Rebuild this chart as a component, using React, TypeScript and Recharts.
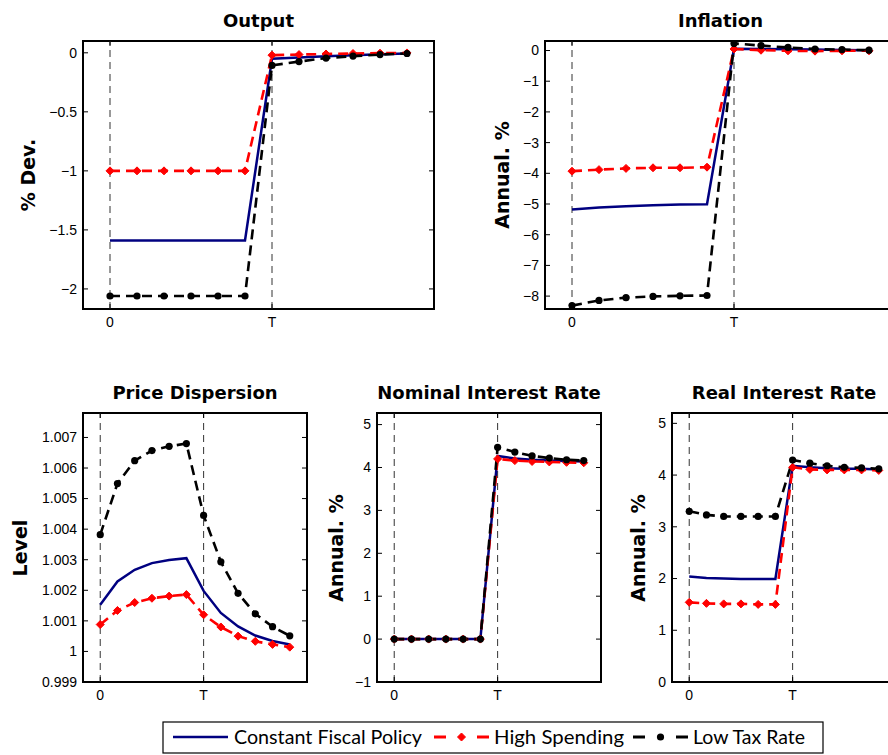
import React from "react";
import { LineChart, Line, XAxis, YAxis, ReferenceLine, ReferenceArea } from "recharts";

// quarters around the policy window, T = period 6
const periods = [0, 1, 2, 3, 4, 5, 6, 7, 8, 9, 10, 11];
const xTicks = [0, 6];
const xTickLabels: Record<number, string> = { 0: "0", 6: "T" };

const outputConstant = [-1.59, -1.59, -1.59, -1.59, -1.59, -1.59, -0.05, -0.04, -0.03, -0.02, -0.012, -0.006];
const outputHighSpend = [-1.0, -1.0, -1.0, -1.0, -1.0, -1.0, -0.02, -0.015, -0.01, -0.006, -0.003, -0.001];
const outputLowTax = [-2.06, -2.06, -2.06, -2.06, -2.06, -2.06, -0.107, -0.074, -0.045, -0.028, -0.015, -0.006];
const outputTicks = [-2, -1.5, -1, -0.5, 0];

const inflConstant = [-5.18, -5.11, -5.07, -5.04, -5.02, -5.01, 0.06, 0.05, 0.04, 0.03, 0.02, 0.01];
const inflHighSpend = [-3.93, -3.88, -3.84, -3.82, -3.82, -3.8, 0.05, 0.01, -0.01, -0.02, -0.01, -0.01];
const inflLowTax = [-8.31, -8.14, -8.05, -8.01, -7.99, -7.98, 0.23, 0.16, 0.1, 0.05, 0.03, 0.01];
const inflTicks = [-8, -7, -6, -5, -4, -3, -2, -1, 0];

const dispConstant = [1.00153, 1.00229, 1.00267, 1.00289, 1.00299, 1.00305, 1.00198, 1.00126, 1.00082, 1.00052, 1.00034, 1.00023];
const dispHighSpend = [1.00088, 1.00134, 1.0016, 1.00174, 1.00181, 1.00186, 1.0012, 1.0008, 1.0005, 1.00033, 1.00023, 1.00014];
const dispLowTax = [1.00382, 1.00549, 1.00624, 1.00657, 1.00671, 1.0068, 1.00445, 1.00293, 1.0019, 1.00123, 1.00081, 1.00051];
const dispTicks = [0.999, 1, 1.001, 1.002, 1.003, 1.004, 1.005, 1.006, 1.007];

const nomConstant = [0, 0, 0, 0, 0, 0, 4.27, 4.21, 4.18, 4.16, 4.15, 4.14];
const nomHighSpend = [0, 0, 0, 0, 0, 0, 4.2, 4.16, 4.14, 4.13, 4.12, 4.11];
const nomLowTax = [0, 0, 0, 0, 0, 0, 4.47, 4.36, 4.27, 4.22, 4.18, 4.16];
const nomTicks = [-1, 0, 1, 2, 3, 4, 5];

const realConstant = [2.04, 2.01, 2.0, 1.99, 1.99, 1.99, 4.18, 4.15, 4.13, 4.12, 4.12, 4.11];
const realHighSpend = [1.54, 1.52, 1.51, 1.51, 1.5, 1.5, 4.15, 4.11, 4.1, 4.1, 4.1, 4.09];
const realLowTax = [3.3, 3.23, 3.2, 3.2, 3.2, 3.2, 4.29, 4.23, 4.18, 4.15, 4.14, 4.12];
const realTicks = [0, 1, 2, 3, 4, 5];

const seriesNames = ["Constant Fiscal Policy", "High Spending", "Low Tax Rate"];

const NAVY = "#000080";
const RED = "#ff0000";
const BLACK = "#000000";

const TICK_FONT = "'Liberation Sans', Arial, sans-serif";
const TITLE_FONT = "'DejaVu Sans', sans-serif";
const LEGEND_FONT = "Lato, sans-serif";

function rows(a: number[], b: number[], c: number[]) {
  return periods.map((t, i) => ({ t, constant: a[i], high: b[i], low: c[i] }));
}

const fmt = (v: number) => {
  const s = Number(v.toFixed(3)).toString();
  return s.replace("-", "\u2212");
};

function Diamond(props: any) {
  const { cx, cy } = props;
  if (cx == null || cy == null) return <g />;
  const r = 4;
  return <polygon points={`${cx},${cy - r} ${cx + r},${cy} ${cx},${cy + r} ${cx - r},${cy}`} fill={RED} stroke={RED} strokeWidth={1} />;
}

function Dot(props: any) {
  const { cx, cy } = props;
  if (cx == null || cy == null) return <g />;
  return <circle cx={cx} cy={cy} r={3.6} fill={BLACK} />;
}

type PanelProps = {
  title: string;
  ylabel: string;
  labelX: number;
  x: number;
  y: number;
  w: number;
  h: number;
  domain: [number, number];
  ticks: number[];
  data: { t: number; constant: number; high: number; low: number }[];
};

const PAD_L = 70;
const PAD_T = 20;
const PAD_R = 10;
const PAD_B = 30;

function Panel({ title, ylabel, labelX, x, y, w, h, domain, ticks, data }: PanelProps) {
  const YTick = (p: any) => {
    const ax = p.x + 6;
    return (
      <g>
        <text x={p.x} y={p.y} dy="0.35em" textAnchor="end" fontSize={14} fontFamily={TICK_FONT} fill="#000">
          {fmt(p.payload.value)}
        </text>
        <line x1={ax} x2={ax + 5} y1={p.y} y2={p.y} stroke="#000" strokeWidth={1} />
        <line x1={ax + w - 5} x2={ax + w} y1={p.y} y2={p.y} stroke="#000" strokeWidth={1} />
      </g>
    );
  };
  const XTick = (p: any) => {
    const ay = p.y - 8;
    return (
      <g>
        <text x={p.x} y={p.y} dy="0.71em" textAnchor="middle" fontSize={14} fontFamily={TICK_FONT} fill="#000">
          {xTickLabels[p.payload.value]}
        </text>
        <line x1={p.x} x2={p.x} y1={ay} y2={ay - 5} stroke="#000" strokeWidth={1} />
        <line x1={p.x} x2={p.x} y1={ay - h} y2={ay - h + 5} stroke="#000" strokeWidth={1} />
      </g>
    );
  };

  return (
    <>
      <div
        style={{
          position: "absolute",
          left: x + w / 2,
          top: y - 21,
          transform: "translate(-50%, -50%)",
          whiteSpace: "nowrap",
          fontFamily: TITLE_FONT,
          fontWeight: "bold",
          fontSize: 18,
        }}
      >
        {title}
      </div>
      <div
        style={{
          position: "absolute",
          left: labelX,
          top: y + h / 2,
          transform: "translate(-50%, -50%) rotate(-90deg)",
          whiteSpace: "nowrap",
          fontFamily: TITLE_FONT,
          fontWeight: "bold",
          fontSize: 19,
        }}
      >
        {ylabel}
      </div>
      <div style={{ position: "absolute", left: x - PAD_L, top: y - PAD_T }}>
        <LineChart
          width={w + PAD_L + PAD_R}
          height={h + PAD_T + PAD_B}
          data={data}
          margin={{ top: PAD_T, right: PAD_R, bottom: 0, left: 0 }}
        >
          <XAxis
            dataKey="t"
            type="number"
            domain={[-1, 12]}
            ticks={xTicks}
            height={PAD_B}
            tickSize={0}
            tickMargin={8}
            axisLine={false}
            tickLine={false}
            tick={XTick}
            allowDataOverflow
          />
          <YAxis
            type="number"
            domain={domain}
            ticks={ticks}
            width={PAD_L}
            tickSize={0}
            tickMargin={6}
            axisLine={false}
            tickLine={false}
            tick={YTick}
            allowDataOverflow
            interval={0}
          />
          <ReferenceLine x={0} stroke="#333" strokeDasharray="7 5" strokeWidth={1} />
          <ReferenceLine x={6} stroke="#333" strokeDasharray="7 5" strokeWidth={1} />
          <Line
            dataKey="constant"
            name={seriesNames[0]}
            stroke={NAVY}
            strokeWidth={2.5}
            dot={false}
            isAnimationActive={false}
            type="linear"
          />
          <Line
            dataKey="high"
            name={seriesNames[1]}
            stroke={RED}
            strokeWidth={2.6}
            strokeDasharray="10 6"
            dot={(p: any) => <Diamond key={`d${p.index}`} {...p} />}
            isAnimationActive={false}
            type="linear"
          />
          <Line
            dataKey="low"
            name={seriesNames[2]}
            stroke={BLACK}
            strokeWidth={2.6}
            strokeDasharray="10 6"
            dot={(p: any) => <Dot key={`c${p.index}`} {...p} />}
            isAnimationActive={false}
            type="linear"
          />
          <ReferenceArea
            x1={-1}
            x2={12}
            y1={domain[0]}
            y2={domain[1]}
            fill="none"
            stroke="#000"
            strokeWidth={2}
            ifOverflow="visible"
          />
        </LineChart>
      </div>
    </>
  );
}

// legend drawn as one small svg, laid out like the original figure's legend box
function Legend() {
  const cy = 16;
  return (
    <svg
      width={662}
      height={33}
      style={{ position: "absolute", left: 162, top: 721 }}
    >
      <rect x={1} y={1} width={660} height={31} fill="#fff" stroke="#000" strokeWidth={1.2} />
      <line x1={11} x2={66} y1={cy} y2={cy} stroke={NAVY} strokeWidth={2.5} />
      <text x={72} y={cy} dy="0.36em" fontSize={19} fontFamily={LEGEND_FONT} textLength={188} lengthAdjust="spacingAndGlyphs">
        {seriesNames[0]}
      </text>
      <line x1={272} x2={327} y1={cy} y2={cy} stroke={RED} strokeWidth={2.8} strokeDasharray="12 31 12" />
      <Diamond cx={299.5} cy={cy} />
      <text x={332} y={cy} dy="0.36em" fontSize={19} fontFamily={LEGEND_FONT} textLength={130} lengthAdjust="spacingAndGlyphs">
        {seriesNames[1]}
      </text>
      <line x1={471} x2={526} y1={cy} y2={cy} stroke={BLACK} strokeWidth={2.8} strokeDasharray="12 31 12" />
      <Dot cx={498.5} cy={cy} />
      <text x={531} y={cy} dy="0.36em" fontSize={19} fontFamily={LEGEND_FONT} textLength={112} lengthAdjust="spacingAndGlyphs">
        {seriesNames[2]}
      </text>
    </svg>
  );
}

export default function App() {
  return (
    <div
      style={{
        position: "absolute",
        left: 0,
        top: 0,
        width: 888,
        height: 755,
        overflow: "hidden",
        background: "#fff",
      }}
    >
      <Panel
        title="Output"
        ylabel="% Dev."
        labelX={28}
        x={83}
        y={41}
        w={351}
        h={268}
        domain={[-2.17, 0.1]}
        ticks={outputTicks}
        data={rows(outputConstant, outputHighSpend, outputLowTax)}
      />
      <Panel
        title="Inflation"
        ylabel="Annual. %"
        labelX={502}
        x={545}
        y={41}
        w={351}
        h={268}
        domain={[-8.42, 0.31]}
        ticks={inflTicks}
        data={rows(inflConstant, inflHighSpend, inflLowTax)}
      />
      <Panel
        title="Price Dispersion"
        ylabel="Level"
        labelX={20}
        x={83}
        y={413}
        w={224}
        h={269}
        domain={[0.999, 1.0078]}
        ticks={dispTicks}
        data={rows(dispConstant, dispHighSpend, dispLowTax)}
      />
      <Panel
        title="Nominal Interest Rate"
        ylabel="Annual. %"
        labelX={336}
        x={377}
        y={413}
        w={224}
        h={269}
        domain={[-1, 5.27]}
        ticks={nomTicks}
        data={rows(nomConstant, nomHighSpend, nomLowTax)}
      />
      <Panel
        title="Real Interest Rate"
        ylabel="Annual. %"
        labelX={638}
        x={672}
        y={413}
        w={224}
        h={269}
        domain={[0, 5.2]}
        ticks={realTicks}
        data={rows(realConstant, realHighSpend, realLowTax)}
      />
      <Legend />
    </div>
  );
}
